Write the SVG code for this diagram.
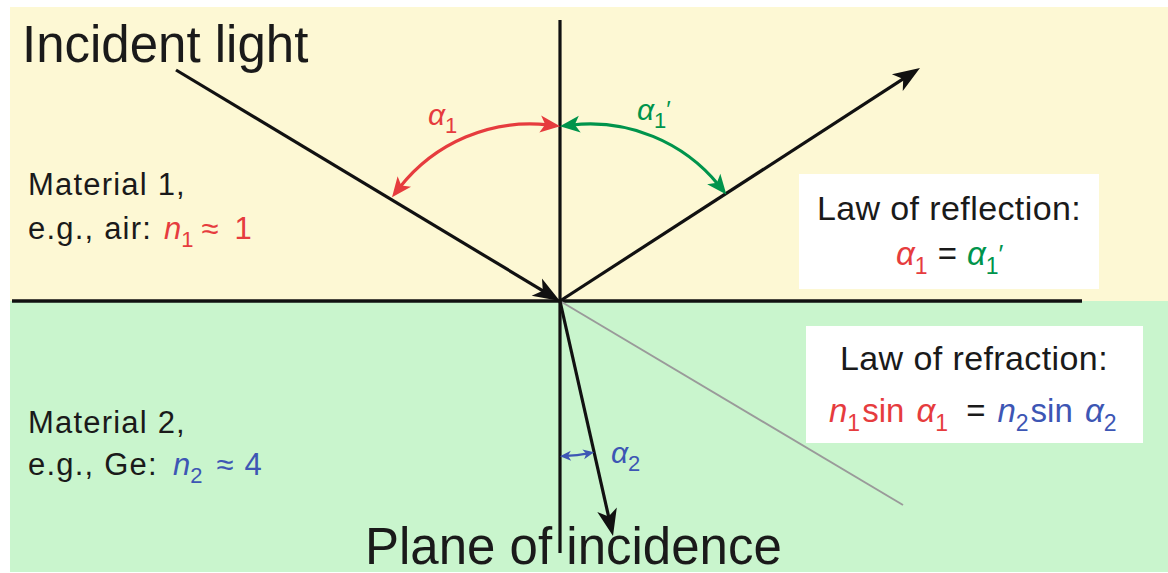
<svg xmlns="http://www.w3.org/2000/svg" width="1168" height="573" viewBox="0 0 1168 573">
<style>
text{font-family:"Liberation Sans",Arial,sans-serif;fill:#1a1a1a}
.g{font-style:italic}
.red{fill:#e63c3e}
.grn{fill:#00944c}
.blu{fill:#3d56b4}
.blk{fill:#1a1a1a}
.mat{font-size:31px;letter-spacing:1.2px}
.law{font-size:34px;letter-spacing:0.4px}
.ray{stroke:#111;stroke-width:3.2;fill:none}
</style>
<defs>
<marker id="ah" markerUnits="userSpaceOnUse" viewBox="-15 -15 40 30" markerWidth="40" markerHeight="30" refX="0" refY="0" orient="auto">
<path d="M15,0 L-12,-10 L-5,0 L-12,10 Z" fill="#111"/>
</marker>
<marker id="ar" markerUnits="userSpaceOnUse" viewBox="-12 -12 28 24" markerWidth="28" markerHeight="24" refX="0" refY="0" orient="auto-start-reverse">
<path d="M12,0 L-8,-8.5 L-3,0 L-8,8.5 Z" fill="#e63c3e"/>
</marker>
<marker id="ag" markerUnits="userSpaceOnUse" viewBox="-12 -12 28 24" markerWidth="28" markerHeight="24" refX="0" refY="0" orient="auto-start-reverse">
<path d="M12,0 L-8,-8.5 L-3,0 L-8,8.5 Z" fill="#00944c"/>
</marker>
<marker id="ab" markerUnits="userSpaceOnUse" viewBox="-8 -8 16 16" markerWidth="16" markerHeight="16" refX="0" refY="0" orient="auto-start-reverse">
<path d="M6,0 L-5,-5 L-2,0 L-5,5 Z" fill="#3d56b4"/>
</marker>
</defs>

<g id="background">
<rect x="10" y="7" width="1158" height="294" fill="#fdf8d4"/>
<rect x="10" y="301" width="1158" height="271" fill="#c9f5cd"/>
</g>

<g id="connectors">
<line x1="560" y1="20" x2="560" y2="553" stroke="#111" stroke-width="3.2"/>
<line x1="12" y1="301" x2="1082" y2="301" stroke="#111" stroke-width="3.6"/>
<line x1="560" y1="301" x2="903" y2="505" stroke="#9a9a9a" stroke-width="2"/>
<line class="ray" x1="176" y1="70" x2="547.1" y2="293.3" marker-end="url(#ah)"/>
<line class="ray" x1="560" y1="301" x2="907.4" y2="76.2" marker-end="url(#ah)"/>
<line class="ray" x1="560" y1="301" x2="609.7" y2="521.4" marker-end="url(#ah)"/>
<path d="M399.4,187.8 A166,166 0 0,1 548.2,124.9" stroke="#e63c3e" stroke-width="3.2" fill="none" marker-start="url(#ar)" marker-end="url(#ar)"/>
<path d="M571.8,125 A166,166 0 0,1 718.8,185.2" stroke="#00944c" stroke-width="3.2" fill="none" marker-start="url(#ag)" marker-end="url(#ag)"/>
<path d="M566,455.9 A155,155 0 0,0 588.2,453.4" stroke="#3d56b4" stroke-width="2.4" fill="none" marker-start="url(#ab)" marker-end="url(#ab)"/>
</g>

<g id="incident-light">
<text x="22" y="62" font-size="51">Incident light</text>
</g>

<g id="angle-labels">
<text class="red" x="428" y="125" font-size="30"><tspan class="g">α</tspan><tspan font-size="22" dy="8">1</tspan></text>
<text class="grn" x="637" y="120" font-size="30"><tspan class="g">α</tspan><tspan font-size="22" dy="8">1</tspan><tspan font-size="24" dx="0" dy="-10">′</tspan></text>
<text class="blu" x="611" y="463" font-size="30"><tspan class="g">α</tspan><tspan font-size="22" dy="8">2</tspan></text>
</g>

<g id="material-1">
<text class="mat" x="28" y="195">Material 1,</text>
<text class="mat" x="28" y="239">e.g., air:</text>
<text class="red" x="164" y="239" font-size="31"><tspan class="g">n</tspan><tspan font-size="22" dy="8">1</tspan><tspan dy="-8" dx="8">≈</tspan><tspan dx="16">1</tspan></text>
</g>

<g id="material-2">
<text class="mat" x="28" y="433">Material 2,</text>
<text class="mat" x="28" y="475">e.g., Ge:</text>
<text class="blu" x="173" y="475" font-size="31"><tspan class="g">n</tspan><tspan font-size="22" dy="8">2</tspan><tspan dy="-8" dx="14">≈</tspan><tspan dx="11">4</tspan></text>
</g>

<g id="law-of-reflection">
<rect x="799" y="174" width="300" height="115" fill="#ffffff"/>
<text class="law" x="949" y="220" text-anchor="middle">Law of reflection:</text>
<text x="896" y="265" font-size="33"><tspan class="g red">α</tspan><tspan class="red" font-size="23" dy="9">1</tspan><tspan class="blk" dy="-9" dx="10">=</tspan><tspan class="g grn" dx="10">α</tspan><tspan class="grn" font-size="23" dy="9">1</tspan><tspan class="grn" font-size="26" dx="0" dy="-11">′</tspan></text>
</g>

<g id="law-of-refraction">
<rect x="806" y="326" width="337" height="117" fill="#ffffff"/>
<text class="law" x="974" y="370" text-anchor="middle">Law of refraction:</text>
<text x="829" y="422" font-size="33"><tspan class="g red">n</tspan><tspan class="red" font-size="23" dy="9">1</tspan><tspan class="red" dy="-9" dx="2">sin </tspan><tspan class="g red" dx="3">α</tspan><tspan class="red" font-size="23" dy="9">1</tspan><tspan class="blk" dy="-9" dx="18">=</tspan><tspan class="g blu" dx="12">n</tspan><tspan class="blu" font-size="23" dy="9">2</tspan><tspan class="blu" dy="-9" dx="2">sin </tspan><tspan class="g blu" dx="3">α</tspan><tspan class="blu" font-size="23" dy="9">2</tspan></text>
</g>

<g id="plane-of-incidence">
<text x="365" y="564" font-size="51">Plane of incidence</text>
</g>
</svg>
